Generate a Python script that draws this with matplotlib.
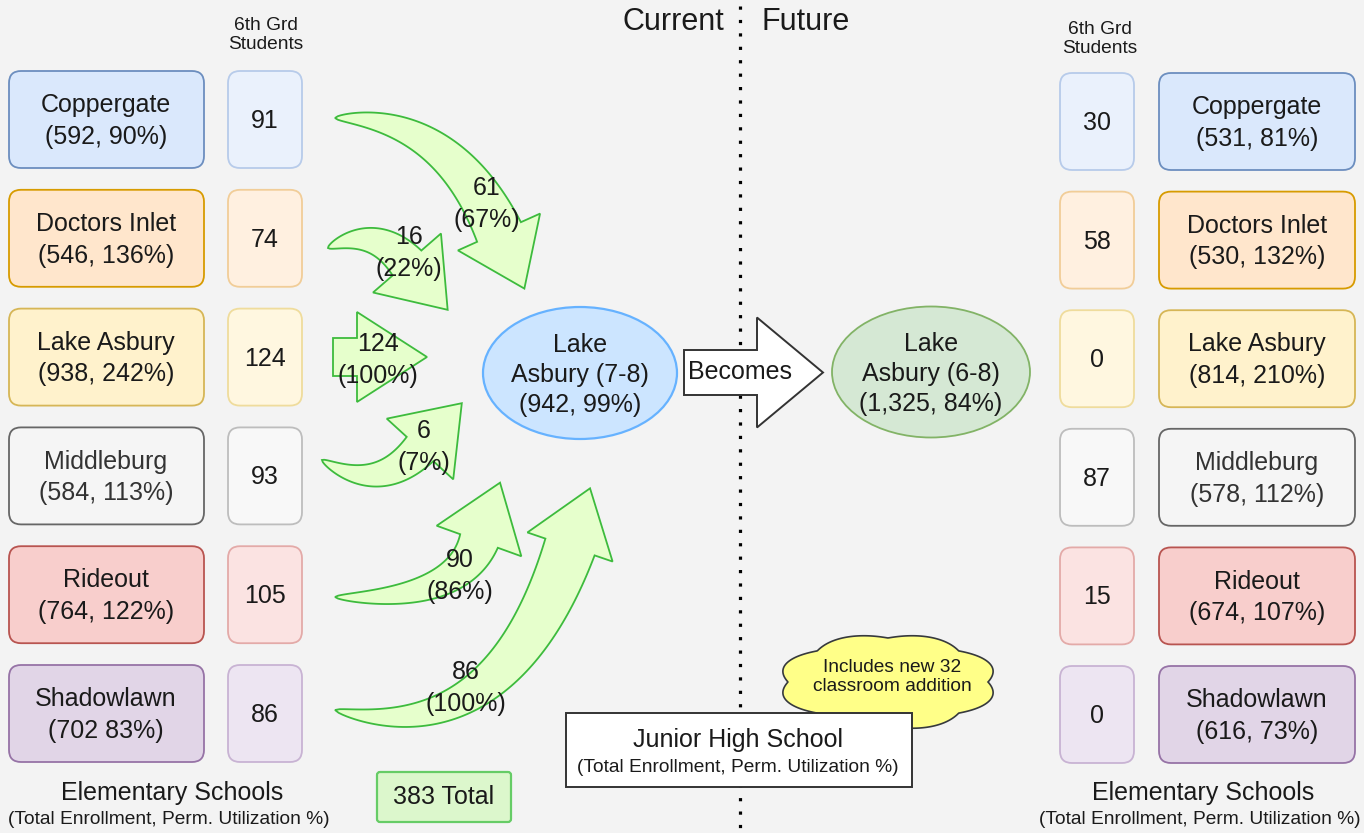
import numpy as np
import matplotlib.pyplot as plt
from matplotlib.patches import FancyBboxPatch, Ellipse, Polygon

plt.rcParams['font.family'] = ['Liberation Sans', 'DejaVu Sans']

# data
schools = ['Coppergate', 'Doctors Inlet', 'Lake Asbury', 'Middleburg', 'Rideout', 'Shadowlawn']
cur_enroll = [592, 546, 938, 584, 764, 702]
cur_util = [90, 136, 242, 113, 122, 83]
cur_sep = [', ', ', ', ', ', ', ', ', ', ' ']
cur_6th = [91, 74, 124, 93, 105, 86]
fut_enroll = [531, 530, 814, 578, 674, 616]
fut_util = [81, 132, 210, 112, 107, 73]
fut_6th = [30, 58, 0, 87, 15, 0]
moved = [61, 16, 124, 6, 90, 86]
moved_pct = [67, 22, 100, 7, 86, 100]
jh_name = ['Lake\nAsbury (7-8)', 'Lake\nAsbury (6-8)']
jh_enroll = [942, 1325]
jh_util = [99, 84]

# styles
fills = ['#dae8fc', '#ffe6cc', '#fff2cc', '#f5f5f5', '#f8cecc', '#e1d5e7']
edges = ['#6c8ebf', '#d79b00', '#d6b656', '#666666', '#b85450', '#9673a6']
light_fills = ['#eaf1fc', '#fff0e0', '#fff7e0', '#f8f8f8', '#fbe3e2', '#ede5f2']
light_edges = ['#b7cbea', '#f1cd98', '#efdc9c', '#bdbdbd', '#e3aaa8', '#c8b3d3']
txt_col = ['#1a1a1a', '#1a1a1a', '#1a1a1a', '#333333', '#1a1a1a', '#1a1a1a']
green_fc = '#e6ffcc'
green_ec = '#3dbb3d'
BIG = 18
SMALL = 13.8

fig = plt.figure(figsize=(13.64, 8.33), dpi=100)
fig.patch.set_facecolor('#f3f3f3')
ax = fig.add_axes([0, 0, 1, 1])
ax.set_xlim(0, 1364)
ax.set_ylim(833, 0)
ax.axis('off')


def rbox(x, y, w, h, fc, ec, r=12, lw=1.3, z=2):
    ax.add_patch(FancyBboxPatch((x, y), w, h, boxstyle=f'round,pad=0,rounding_size={r}',
                                fc=fc, ec=ec, lw=lw, zorder=z))


def bezier_arrow(p0, p1, p2, body_w, head_hw, head_len, taper=0.6,
                 fc=green_fc, ec=green_ec, lw=1.3, z=3):
    p0, p1, p2 = (np.asarray(p, float) for p in (p0, p1, p2))
    t = np.linspace(0, 1, 80)[:, None]
    P = (1 - t) ** 2 * p0 + 2 * t * (1 - t) * p1 + t ** 2 * p2
    D = 2 * (1 - t) * (p1 - p0) + 2 * t * (p2 - p1)
    D = D / np.linalg.norm(D, axis=1, keepdims=True)
    N = np.column_stack([-D[:, 1], D[:, 0]])
    w = body_w / 2 * t ** taper
    a = P + N * w
    b = P - N * w
    tip = p2 + D[-1] * head_len
    pts = np.vstack([a, p2 + N[-1] * head_hw, tip, p2 - N[-1] * head_hw, b[::-1]])
    ax.add_patch(Polygon(pts, closed=True, fc=fc, ec=ec, lw=lw, zorder=z,
                         joinstyle='miter'))


# left side: current
for i, s in enumerate(schools):
    top = 71 + i * 118.8
    rbox(9, top, 195, 97, fills[i], edges[i])
    ax.text(106, top + 50, f'{s}\n({cur_enroll[i]}{cur_sep[i]}{cur_util[i]}%)',
            ha='center', va='center', fontsize=BIG, linespacing=1.4, color=txt_col[i], zorder=5)
    rbox(228, top, 74, 97, light_fills[i], light_edges[i])
    ax.text(265, top + 50, str(cur_6th[i]), ha='center', va='center',
            fontsize=BIG, color='#1a1a1a', zorder=5)

# right side: future
for i, s in enumerate(schools):
    top = 73 + i * 118.6
    rbox(1060, top, 74, 97, light_fills[i], light_edges[i])
    ax.text(1097, top + 50, str(fut_6th[i]), ha='center', va='center',
            fontsize=BIG, color='#1a1a1a', zorder=5)
    rbox(1159, top, 196, 97, fills[i], edges[i])
    ax.text(1257, top + 50, f'{s}\n({fut_enroll[i]}, {fut_util[i]}%)',
            ha='center', va='center', fontsize=BIG, linespacing=1.4, color=txt_col[i], zorder=5)

for x, y in [(266, 35), (1100, 39)]:
    ax.text(x, y, '6th Grd\nStudents', ha='center', va='center', fontsize=SMALL,
            linespacing=1.15, color='#1a1a1a')

for x, y in [(172, 793), (1203, 793)]:
    ax.text(x, y, 'Elementary Schools', ha='center', va='center', fontsize=BIG, color='#1a1a1a')
    ax.text(x - 3, y + 26, '(Total Enrollment, Perm. Utilization %)', ha='center',
            va='center', fontsize=SMALL, color='#1a1a1a')

# flow arrows (tail, control, head base, body width, taper)
arrow_geom = [((335, 118), (447, 116), (499, 232), 48, 0.6),
              ((328, 248), (374, 225), (407, 263), 38, 0.6),
              ((333, 357), (345, 357), (357, 357), 38, 0.0),
              ((322, 460), (378, 495), (420, 449), 36, 0.6),
              ((335, 597), (457, 602), (479, 541), 40, 0.6),
              ((335, 710), (500, 752), (570, 547), 52, 0.6)]
label_pos = [(487, 204), (409, 253), (378, 360), (424, 447), (460, 576), (466, 688)]
for i, (p0, p1, p2, bw, tp) in enumerate(arrow_geom):
    hl = 70 if tp == 0 else 62
    bezier_arrow(p0, p1, p2, bw, 45, hl, taper=tp)
    ax.text(*label_pos[i], f'{moved[i]}\n({moved_pct[i]}%)', ha='center', va='center',
            fontsize=BIG, linespacing=1.4, color='#1a1a1a', zorder=6)

rbox(377, 772, 134, 50, '#dcf7cc', '#66cc66', r=3, lw=1.6)
ax.text(444, 797, f'{sum(moved)} Total', ha='center', va='center', fontsize=BIG,
        color='#1a1a1a', zorder=5)

# divider
ax.plot([740, 740], [6, 833], color='black', lw=2.3, ls=(0, (1, 3.2)), zorder=1)
ax.text(673, 22, 'Current', ha='center', va='center', fontsize=22, color='#1a1a1a')
ax.text(806, 22, 'Future', ha='center', va='center', fontsize=22, color='#1a1a1a')

# junior high
ax.add_patch(Ellipse((580, 373), 194, 132, fc='#cce5ff', ec='#66b2ff', lw=1.6, zorder=3))
ax.text(580, 375, f'{jh_name[0]}\n({jh_enroll[0]:,}, {jh_util[0]}%)', ha='center',
        va='center', fontsize=BIG, linespacing=1.3, color='#1a1a1a', zorder=5)
ax.add_patch(Ellipse((931, 372), 198, 131, fc='#d5e8d4', ec='#82b366', lw=1.3, zorder=3))
ax.text(931, 374, f'{jh_name[1]}\n({jh_enroll[1]:,}, {jh_util[1]}%)', ha='center',
        va='center', fontsize=BIG, linespacing=1.3, color='#1a1a1a', zorder=5)

bezier_arrow((684, 372.5), (720, 372.5), (757, 372.5), 45, 55, 66, taper=0.0,
             fc='white', ec='#333333', lw=1.4)
ax.text(740, 372, 'Becomes', ha='center', va='center', fontsize=BIG, color='#1a1a1a', zorder=5)

# cloud note
th = np.linspace(0, 2 * np.pi, 600)
bump = 1 + 0.1 * np.abs(np.sin(4 * th))
ax.add_patch(Polygon(np.column_stack([888 + 100 * bump * np.cos(th),
                                      682 + 44 * bump * np.sin(th)]),
                     closed=True, fc='#ffff88', ec='#36393d', lw=1.2, zorder=3))
ax.text(892, 677, 'Includes new 32\nclassroom addition', ha='center', va='center',
        fontsize=SMALL, linespacing=1.2, color='#1a1a1a', zorder=5)

ax.add_patch(plt.Rectangle((566, 713), 346, 74, fc='white', ec='#333333', lw=1.4, zorder=4))
ax.text(738, 740, 'Junior High School', ha='center', va='center', fontsize=BIG,
        color='#1a1a1a', zorder=5)
ax.text(738, 767, '(Total Enrollment, Perm. Utilization %)', ha='center', va='center',
        fontsize=SMALL, color='#1a1a1a', zorder=5)

fig.savefig('out.png', dpi=100, facecolor=fig.get_facecolor())
